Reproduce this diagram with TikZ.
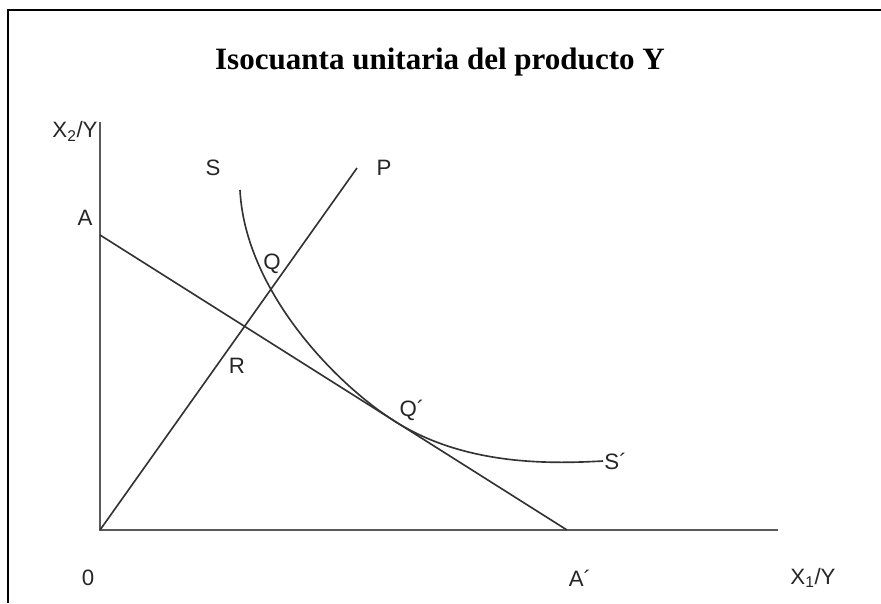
\documentclass[tikz,border=0pt]{standalone}
\usepackage{fontspec}
\setmainfont{Liberation Sans}
\newfontfamily\titlefont{Liberation Serif}

\begin{document}
\begin{tikzpicture}[x=0.03cm,y=-0.03cm]

% Cadre de l'image (unités en pixels, y vers le bas)
\useasboundingbox (0,0) rectangle (881,603);

% Styles
\tikzset{
  axe/.style={line width=1.5pt, black!65},
  courbe/.style={line width=1.4pt, black!80},
  etiq/.style={font=\fontsize{19}{22}\selectfont, text=black!85}
}

% Bord
\draw[line width=2.4pt] (8,603) -- (8,10) -- (881,10);

% Titre
\node[font=\titlefont\bfseries\fontsize{26.5}{31}\selectfont] (titre) at (440,62)
  {Isocuanta unitaria del producto Y};

% Points
\coordinate (O) at (100,530);   % origine
\coordinate (A) at (100,235);   % isocoste sur l'axe X2/Y
\coordinate (Ap) at (567,530);  % isocoste sur l'axe X1/Y
\coordinate (P) at (357,168);   % rayon OP
\coordinate (ejeY) at (100,122);
\coordinate (ejeX) at (778,530);
\coordinate (S) at (240,190);   % début isocuanta
\coordinate (T) at (395,421.4); % point de tangence
\coordinate (Sp) at (603,461);  % fin isocuanta

\begin{scope}
    % Axes
    \draw[axe] (ejeY) -- (O) -- (ejeX);
    % Droite AA´ et rayon OP
    \draw[courbe] (A) -- (Ap);
    \draw[courbe] (O) -- (P);
    % Isocuanta SS´
    \draw[courbe] (S) .. controls (245,290) and (335,383.5) .. (T)
      .. controls (465,465.6) and (550,464) .. (Sp);

    % Etiquettes
    \node[etiq] (lX2) at (75,131) {X\textsubscript{2}/Y};
    \node[etiq] (lA) at (85,218) {A};
    \node[etiq] (lS) at (213,168) {S};
    \node[etiq] (lP) at (384,168) {P};
    \node[etiq] (lQ) at (272,264) {Q};
    \node[etiq] (lR) at (237,366) {R};
    \node[etiq] (lQp) at (412,410) {Q´};
    \node[etiq, anchor=west, inner sep=1pt] (lSp) at (Sp) {S´};
    \node[etiq] (l0) at (88,578) {0};
    \node[etiq] (lAp) at (580,578) {A´};
    \node[etiq] (lX1) at (813,578) {X\textsubscript{1}/Y};
\end{scope}

\end{tikzpicture}
\end{document}
